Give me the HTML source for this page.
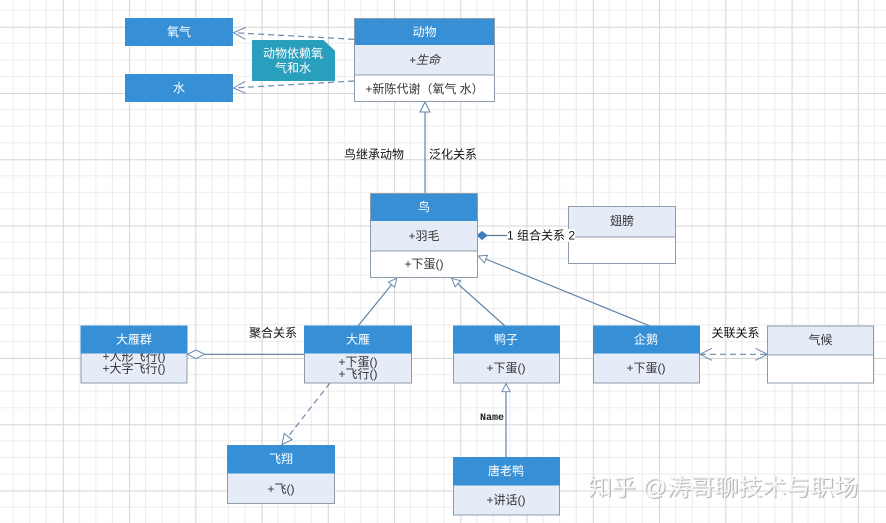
<!DOCTYPE html>
<html><head><meta charset="utf-8">
<style>
html,body{margin:0;padding:0;background:#fff;}
svg{display:block;}
text{font-family:"Liberation Sans","Noto Sans CJK SC",sans-serif;font-size:12px;}
.h{fill:#fff;text-anchor:middle;dominant-baseline:central;}
.b{fill:#333;text-anchor:middle;dominant-baseline:central;}
.l{fill:#111;text-anchor:middle;dominant-baseline:central;}
</style></head>
<body>
<svg width="886" height="523" viewBox="0 0 886 523" xmlns="http://www.w3.org/2000/svg">
<defs>
<pattern id="g" x="-3.45" y="26.75" width="66.25" height="66.25" patternUnits="userSpaceOnUse">
<path d="M16.56 0V66.25M33.12 0V66.25M49.69 0V66.25M0 16.56H66.25M0 33.12H66.25M0 49.69H66.25" stroke="#ececec" stroke-width="1" fill="none"/>
<path d="M0.5 0V66.25M0 0.5H66.25" stroke="#d6d6d6" stroke-width="1" fill="none"/>
</pattern>
<marker id="tri" markerUnits="userSpaceOnUse" markerWidth="12" markerHeight="12" refX="10" refY="5" orient="auto" viewBox="-1 -1 12 12">
<path d="M0,0 L10,5 L0,10 Z" fill="#fff" stroke="#6384a6" stroke-width="1"/>
</marker>
<marker id="tris" markerUnits="userSpaceOnUse" markerWidth="10" markerHeight="10" refX="9" refY="4.5" orient="auto" viewBox="-1 -1 11 11">
<path d="M0,0 L9,4.5 L0,9 Z" fill="#fff" stroke="#6384a6" stroke-width="1"/>
</marker>
<marker id="vee" markerUnits="userSpaceOnUse" markerWidth="14" markerHeight="14" refX="12" refY="6" orient="auto" viewBox="-1 -1 14 14">
<path d="M0,0 L12,6 L0,12" fill="none" stroke="#6d8aa8" stroke-width="1"/>
</marker>
<marker id="veeS" markerUnits="userSpaceOnUse" markerWidth="14" markerHeight="14" refX="12" refY="6" orient="auto-start-reverse" viewBox="-1 -1 14 14">
<path d="M0,0 L12,6 L0,12" fill="none" stroke="#6d8aa8" stroke-width="1"/>
</marker>
</defs>
<rect width="886" height="523" fill="#fff"/>
<rect width="886" height="523" fill="url(#g)"/>

<!-- connectors -->
<g stroke="#6d8aa8" stroke-width="1.2" fill="none">
<line x1="354" y1="39.3" x2="233.5" y2="32.7" stroke-dasharray="6,4" marker-end="url(#vee)"/>
<line x1="354" y1="81" x2="233.5" y2="88" stroke-dasharray="6,4" marker-end="url(#vee)"/>
<line x1="425" y1="193" x2="425" y2="102" stroke="#6384a6" marker-end="url(#tri)"/>
<line x1="358" y1="326" x2="396.7" y2="278.3" stroke="#6384a6" marker-end="url(#tris)"/>
<line x1="505" y1="326" x2="451.7" y2="278.3" stroke="#6384a6" marker-end="url(#tris)"/>
<line x1="650" y1="326" x2="478.3" y2="256" stroke="#6384a6" marker-end="url(#tris)"/>
<line x1="330" y1="383" x2="282" y2="444.5" stroke-dasharray="6,4" marker-end="url(#tri)"/>
<line x1="506" y1="457" x2="506" y2="383.5" stroke="#6384a6" marker-end="url(#tris)"/>
<line x1="700" y1="354.3" x2="767.5" y2="354.3" stroke-dasharray="6,4" marker-start="url(#veeS)" marker-end="url(#vee)"/>
<line x1="205" y1="354.3" x2="304" y2="354.3" stroke="#5a7898"/>
<line x1="487" y1="235.5" x2="568" y2="235.5" stroke="#5a7898"/>
</g>
<path d="M187.3,354.3 L196,350 L204.7,354.3 L196,358.6 Z" fill="#fff" stroke="#6384a6" stroke-width="1"/>
<path d="M477.3,235.5 L482,231.5 L487,235.5 L482,239.5 Z" fill="#3d7cb8" stroke="#3d7cb8" stroke-width="1"/>

<!-- 氧气 / 水 -->
<rect x="125" y="18" width="108" height="28" fill="#3790d6"/>
<text class="h" x="179" y="32">氧气</text>
<rect x="125" y="74" width="108" height="28" fill="#3790d6"/>
<text class="h" x="179" y="88">水</text>

<!-- note -->
<path d="M252,40 L323.5,40 L335,50.7 L335,81 L252,81 Z" fill="#2a9fbd"/>
<text class="h" x="293" y="53.5">动物依赖氧</text>
<text class="h" x="293" y="68">气和水</text>

<!-- 动物 -->
<rect x="354.5" y="18.5" width="140" height="83" fill="#fff" stroke="#8d9baa"/>
<rect x="354.5" y="45" width="140" height="30" fill="#e6ecf7"/>
<line x1="354.5" y1="75" x2="494.5" y2="75" stroke="#8d9baa"/>
<rect x="354" y="18" width="141" height="27" fill="#3790d6"/>
<rect x="354.5" y="18.5" width="140" height="83" fill="none" stroke="#8d9baa"/>
<text class="h" x="424.5" y="32">动物</text>
<text class="b" x="424.5" y="60" font-style="italic">+生命</text>
<text class="b" x="424.5" y="89">+新陈代谢（氧气  水）</text>

<text class="l" x="374" y="154.5">鸟继承动物</text>
<text class="l" x="453" y="154.5">泛化关系</text>

<!-- 鸟 -->
<rect x="370.5" y="193.5" width="107" height="84" fill="#fff" stroke="#8d9baa"/>
<rect x="371" y="221" width="106" height="30" fill="#e6ecf7"/>
<line x1="370.5" y1="251" x2="477.5" y2="251" stroke="#8d9baa"/>
<rect x="370" y="193" width="108" height="28" fill="#3790d6"/>
<rect x="370.5" y="193.5" width="107" height="84" fill="none" stroke="#8d9baa"/>
<text class="h" x="424" y="207">鸟</text>
<text class="b" x="424" y="236">+羽毛</text>
<text class="b" x="424" y="264">+下蛋()</text>

<!-- 翅膀 -->
<rect x="568.5" y="206.5" width="107" height="57" fill="#fff" stroke="#8d9baa"/>
<rect x="569" y="207" width="106" height="30" fill="#e6ecf7"/>
<line x1="568.5" y1="237" x2="675.5" y2="237" stroke="#8d9baa"/>
<text class="b" x="622" y="221">翅膀</text>
<rect x="507" y="229" width="68" height="13" fill="#fff"/>
<text class="l" x="541" y="235.5" font-size="12.5">1 组合关系 2</text>

<!-- 大雁群 -->
<rect x="81" y="326" width="106" height="57" fill="#e6ecf7" stroke="#8d9baa"/>
<text class="b" x="134" y="356.5">+人形飞行()</text>
<text class="b" x="134" y="368.5">+大字飞行()</text>
<rect x="80.5" y="325.5" width="107" height="28" fill="#3790d6"/>
<text class="h" x="134" y="339.5">大雁群</text>

<text class="l" x="273" y="333">聚合关系</text>

<!-- 大雁 -->
<rect x="304.5" y="326" width="107" height="57" fill="#e6ecf7" stroke="#8d9baa"/>
<rect x="304" y="325.5" width="108" height="28" fill="#3790d6"/>
<text class="h" x="358" y="339.5">大雁</text>
<text class="b" x="358" y="362">+下蛋()</text>
<text class="b" x="358" y="374">+飞行()</text>

<!-- 鸭子 -->
<rect x="453.5" y="326" width="106" height="57" fill="#e6ecf7" stroke="#8d9baa"/>
<rect x="453" y="325.5" width="107" height="28" fill="#3790d6"/>
<text class="h" x="506" y="339.5">鸭子</text>
<text class="b" x="506" y="368">+下蛋()</text>

<!-- 企鹅 -->
<rect x="593.5" y="326" width="106" height="57" fill="#e6ecf7" stroke="#8d9baa"/>
<rect x="593" y="325.5" width="107" height="28" fill="#3790d6"/>
<text class="h" x="646" y="339.5">企鹅</text>
<text class="b" x="646" y="368">+下蛋()</text>

<text class="l" x="735.5" y="333">关联关系</text>

<!-- 气候 -->
<rect x="767.5" y="326" width="106" height="57" fill="#fff" stroke="#8d9baa"/>
<rect x="768" y="326.5" width="105" height="28.5" fill="#e6ecf7"/>
<line x1="767.5" y1="355" x2="873.5" y2="355" stroke="#8d9baa"/>
<text class="b" x="820.5" y="340">气候</text>

<!-- 飞翔 -->
<rect x="227.5" y="445.5" width="107" height="58" fill="#e6ecf7" stroke="#8d9baa"/>
<rect x="227" y="445" width="108" height="28.5" fill="#3790d6"/>
<text class="h" x="281" y="459">飞翔</text>
<text class="b" x="281" y="489">+飞()</text>

<!-- 唐老鸭 -->
<rect x="453.5" y="457.5" width="106" height="57.5" fill="#e6ecf7" stroke="#8d9baa"/>
<rect x="453" y="457" width="107" height="28.5" fill="#3790d6"/>
<text class="h" x="506" y="471">唐老鸭</text>
<text class="b" x="506" y="500">+讲话()</text>

<text x="492" y="418.5" text-anchor="middle" dominant-baseline="central" style="font-family:'Liberation Mono',monospace;font-size:10px;font-weight:bold;fill:#222;">Name</text>

<!-- watermark -->
<text x="588" y="495" textLength="270" lengthAdjust="spacingAndGlyphs" style="font-size:23px;fill:#b8b8b8;" transform="translate(1.2,1.2)">知乎 @涛哥聊技术与职场</text>
<text x="588" y="495" textLength="270" lengthAdjust="spacingAndGlyphs" style="font-size:23px;fill:#f7f7f7;">知乎 @涛哥聊技术与职场</text>
</svg>
</body></html>
